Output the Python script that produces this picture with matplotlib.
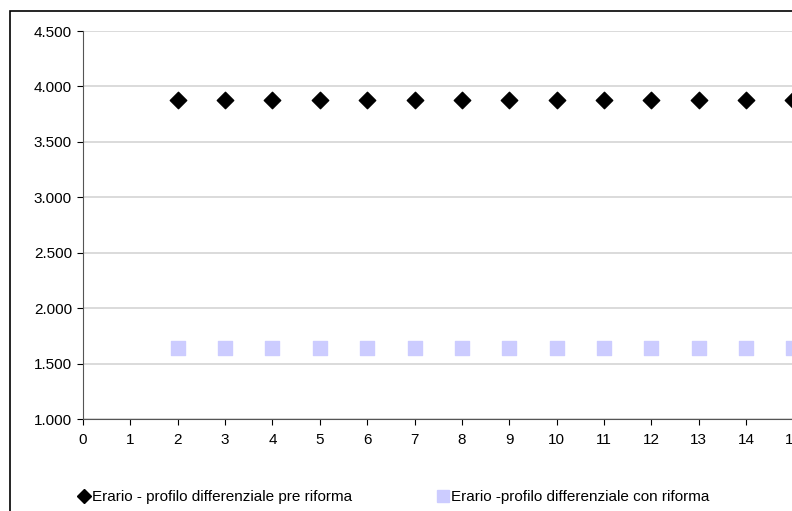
import numpy as np
import matplotlib
matplotlib.use('Agg')
import matplotlib.pyplot as plt
from matplotlib.ticker import FuncFormatter
from matplotlib.patches import Rectangle

plt.rcParams['font.family'] = ['Liberation Sans', 'DejaVu Sans']

# yearly values (x = year index)
anni = list(range(2, 16))
pre_riforma = [3880] * len(anni)
con_riforma = [1640] * len(anni)

lbl_pre = 'Erario - profilo differenziale pre riforma'
lbl_con = 'Erario -profilo differenziale con riforma'

fig = plt.figure(figsize=(7.92, 5.11), dpi=100)

# outer chart frame (runs past the right/bottom edges)
fig.patches.append(Rectangle((10/792, -0.1), 1.2, 1 - 11/511 + 0.1,
                             transform=fig.transFigure, fill=False,
                             edgecolor='black', linewidth=1.2))

ax = fig.add_axes([83/792, 1 - 419/511, 16*47.36/792, (419 - 31)/511])
ax.scatter(anni, pre_riforma, marker='D', s=70, color='black', label=lbl_pre, zorder=3)
ax.scatter(anni, con_riforma, marker='s', s=90, color='#CCCCFF', label=lbl_con, zorder=3)

ax.set_xlim(0, 16)
ax.set_ylim(1000, 4500)
ax.set_xticks(range(0, 17))
ax.set_yticks(np.arange(1000, 4501, 500))
ax.yaxis.set_major_formatter(FuncFormatter(lambda v, p: f'{v:,.0f}'.replace(',', '.')
                                           if v >= 1000 else f'{v:.0f}'))
ax.grid(axis='y', color='#d4d4d4', linewidth=1.2)
ax.set_axisbelow(True)
for s in ['top', 'right']:
    ax.spines[s].set_visible(False)
for s in ['left', 'bottom']:
    ax.spines[s].set_color('#555555')
ax.tick_params(axis='both', labelsize=11, length=4, color='black', pad=4)
ax.tick_params(axis='x', pad=6)

h, l = ax.get_legend_handles_labels()
h[0] = plt.Line2D([], [], marker='D', color='black', linestyle='', markersize=7)
h[1] = plt.Line2D([], [], marker='s', color='#CCCCFF', linestyle='', markersize=8.5)
fig.legend(h, l, loc='center left', bbox_to_anchor=(69/792, 1 - 497/511), ncol=2,
           frameon=False, fontsize=11, handletextpad=0.0, columnspacing=5.45,
           handlelength=1.0, borderpad=0)

fig.savefig('out.png', dpi=100)
